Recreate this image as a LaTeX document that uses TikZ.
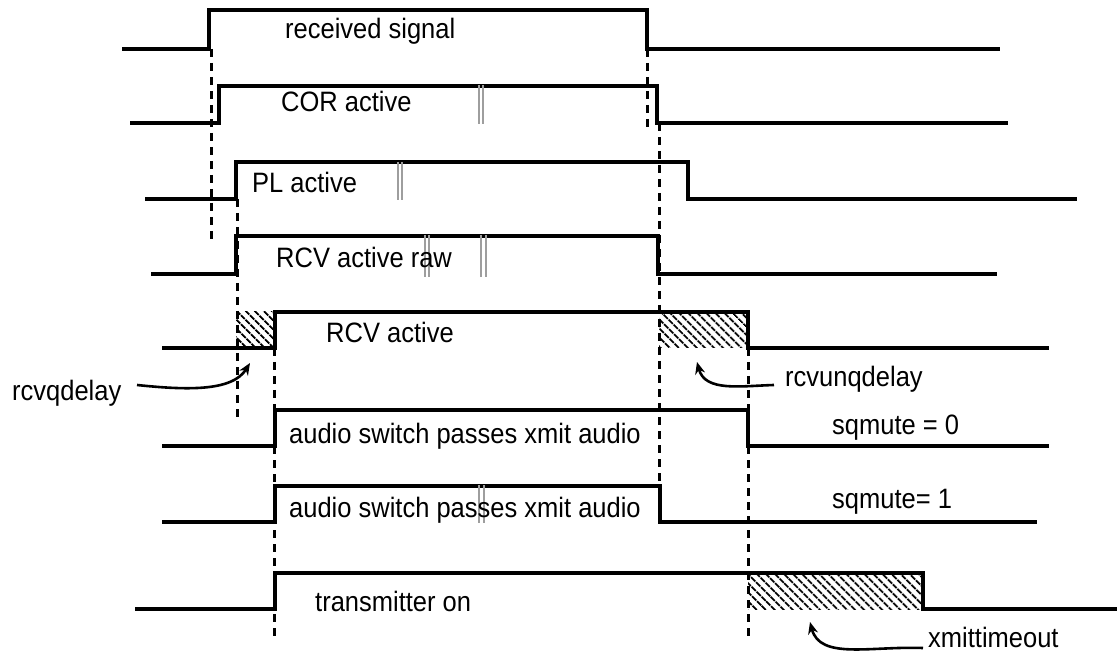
\documentclass[tikz,border=0pt]{standalone}
\usepackage{fontspec}
\setmainfont{Liberation Sans}
\usetikzlibrary{patterns.meta,arrows.meta}
\newcommand\vs[1]{\scalebox{1}[1.1]{#1}}
\begin{document}
\begin{tikzpicture}[x=1pt,y=-1pt,
  sig/.style={line width=3.2pt,line join=miter},
  guide/.style={line width=3pt,dash pattern=on 8pt off 6pt},
  brk/.style={draw=black!38,line width=2pt},
  hatch/.style={pattern={Lines[angle=-45,distance=6.5pt,line width=2.2pt]}},
  lbl/.style={anchor=base west,inner sep=0pt,font=\fontsize{25.5}{28}\selectfont},
  callout/.style={line width=2.6pt,-{Stealth[length=12pt,width=10pt]}}]
\useasboundingbox (0,0) rectangle (1117,652);

% hatched delay regions
\fill[hatch] (236,312) rectangle (275,348);
\fill[hatch] (659,312) rectangle (748,348);
\fill[hatch] (748,573) rectangle (923,609);

% guide lines
\draw[guide] (211,49) -- (211,243);
\draw[guide] (647,49) -- (647,130);
\draw[guide] (237,199) -- (237,418);
\draw[guide] (659,123) -- (659,522);
\draw[guide] (274,348) -- (274,640);
\draw[guide] (748,348) -- (748,640);

% signals
\draw[sig] (122,49) -- (209,49) -- (209,10) -- (647,10) -- (647,49) -- (1000,49);
\draw[sig] (130,123) -- (219,123) -- (219,86) -- (657,86) -- (657,123) -- (1008,123);
\draw[sig] (145,199) -- (236,199) -- (236,162) -- (688,162) -- (688,199) -- (1077,199);
\draw[sig] (151,274) -- (236,274) -- (236,236) -- (658,236) -- (658,274) -- (997,274);
\draw[sig] (162,348) -- (275,348) -- (275,312) -- (748,312) -- (748,348) -- (1049,348);
\draw[sig] (162,446) -- (275,446) -- (275,410) -- (748,410) -- (748,446) -- (1049,446);
\draw[sig] (162,522) -- (275,522) -- (275,486) -- (660,486) -- (660,522) -- (1037,522);
\draw[sig] (135,609) -- (275,609) -- (275,573) -- (923,573) -- (923,609) -- (1117,609);

% break marks
\draw[brk] (479,85) -- (479,124) (483,85) -- (483,124);
\draw[brk] (398,162) -- (398,200) (402,162) -- (402,200);
\draw[brk] (425,235) -- (425,277) (429,235) -- (429,277);
\draw[brk] (481,235) -- (481,277) (486,235) -- (486,277);
\draw[brk] (479,485) -- (479,523) (484,485) -- (484,523);

% labels
\node[lbl] (rs)  at (285,39)  {\vs{received signal}};
\node[lbl] (cor) at (281,112) {\vs{COR active}};
\node[lbl] (pl)  at (252,193) {\vs{PL active}};
\node[lbl] (rr)  at (276,268) {\vs{RCV active raw}};
\node[lbl] (ra)  at (326,343) {\vs{RCV active}};
\node[lbl] (as0) at (289,443) {\vs{audio switch passes xmit audio}};
\node[lbl] (as1) at (289,517) {\vs{audio switch passes xmit audio}};
\node[lbl] (tx)  at (315,611) {\vs{transmitter on}};
\node[lbl] (sq0) at (832,435) {\vs{sqmute = 0}};
\node[lbl] (sq1) at (832,508) {\vs{sqmute= 1}};
\node[lbl] (rq)  at (12,400)  {\vs{rcvqdelay}};
\node[lbl] (ru)  at (785,387) {\vs{rcvunqdelay}};
\node[lbl] (xt)  at (928,647) {\vs{xmittimeout}};

% callouts
\coordinate (rqs) at (137,385);
\coordinate (rqt) at (250,363);
\coordinate (rus) at (774,385);
\coordinate (rut) at (697,362);
\coordinate (xts) at (923,648);
\coordinate (xtt) at (810,622);
\draw[callout] (rqs) .. controls (185,390) and (232,392) .. (rqt);
\draw[callout] (rus) .. controls (740,386) and (705,392) .. (rut);
\draw[callout] (xts) .. controls (870,646) and (820,660) .. (xtt);
\end{tikzpicture}
\end{document}
